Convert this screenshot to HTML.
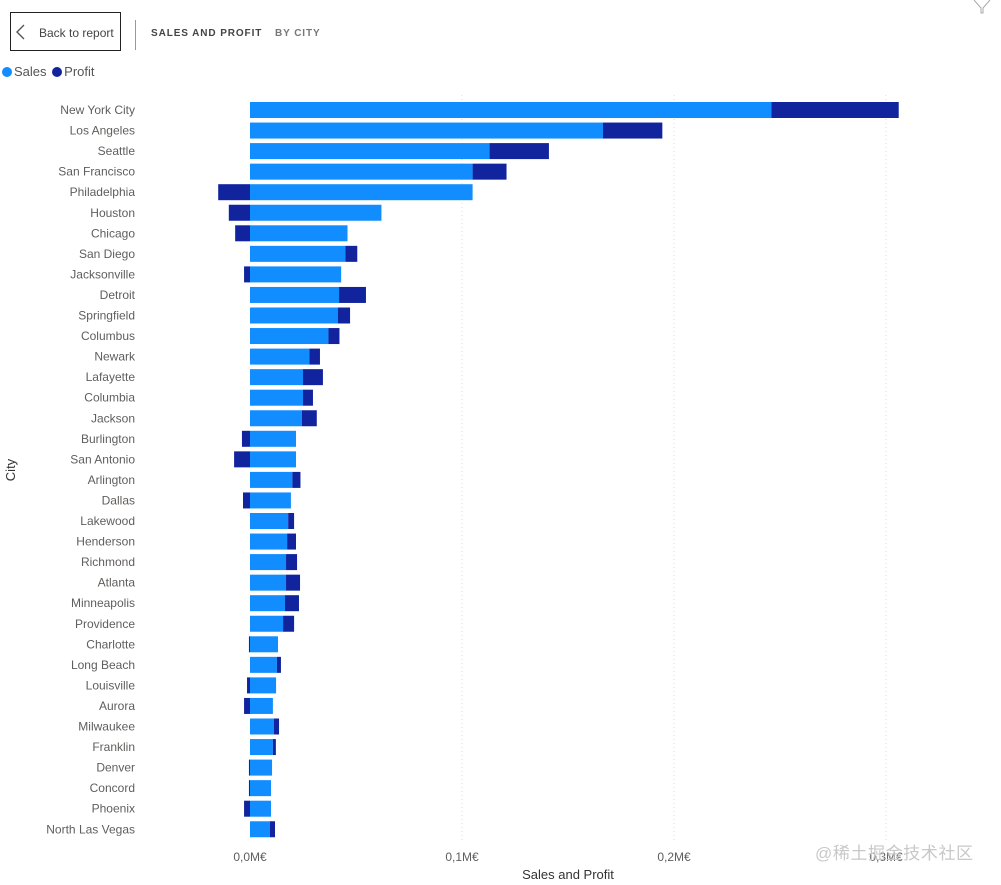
<!DOCTYPE html>
<html><head><meta charset="utf-8">
<style>
body{margin:0;background:#fff;font-family:"Liberation Sans",sans-serif;}
#root{position:relative;width:1001px;height:885px;overflow:hidden;}
</style></head>
<body>
<div id="root">
<div style="position:absolute;left:10px;top:12px;width:109px;height:37px;border:1px solid #222;box-sizing:content-box;">
<svg width="12" height="18" style="position:absolute;left:4px;top:11px"><polyline points="9,1 2,8 9,15" fill="none" stroke="#555" stroke-width="1.4"/></svg>
<span style="position:absolute;left:28px;top:13px;font-size:12px;color:#444;">Back to report</span></div>
<div style="position:absolute;left:135px;top:20px;width:1px;height:30px;background:#999"></div>
<div style="position:absolute;left:151px;top:28px;font-size:10px;font-weight:bold;letter-spacing:0.9px;color:#444">SALES AND PROFIT</div>
<div style="position:absolute;left:275px;top:28px;font-size:10px;font-weight:bold;letter-spacing:0.9px;color:#777">BY CITY</div>
<svg width="20" height="14" style="position:absolute;left:972px;top:0"><polyline points="2,0 9,8 9,13 11,13 11,8 18,0" fill="none" stroke="#aaa" stroke-width="1"/></svg>
<div style="position:absolute;left:2px;top:64px;font-size:13px;color:#555">
<span><span style="display:inline-block;width:10px;height:10px;border-radius:5px;background:#118DFF;vertical-align:-1px;margin-right:2px"></span>Sales</span>
<span style="margin-left:2px"><span style="display:inline-block;width:10px;height:10px;border-radius:5px;background:#12239E;vertical-align:-1px;margin-right:2px"></span>Profit</span></div>
<svg id="chart" width="1001" height="885" style="position:absolute;left:0;top:0"></svg>
<div style="position:absolute;left:815px;top:839px;font-size:17px;letter-spacing:0.6px;color:#c8c8c8;font-family:'Liberation Sans','Noto Sans CJK SC',sans-serif">@稀土掘金技术社区</div>
</div>
<script>
const cities=["New York City","Los Angeles","Seattle","San Francisco","Philadelphia","Houston","Chicago","San Diego","Jacksonville","Detroit","Springfield","Columbus","Newark","Lafayette","Columbia","Jackson","Burlington","San Antonio","Arlington","Dallas","Lakewood","Henderson","Richmond","Atlanta","Minneapolis","Providence","Charlotte","Long Beach","Louisville","Aurora","Milwaukee","Franklin","Denver","Concord","Phoenix","North Las Vegas"];
const sales=[246,166.5,113,105,105,62,46,45,43,42,41.5,37,28,25,25,24.5,21.7,21.7,20,19.3,18,17.5,17,17,16.5,15.6,13.2,12.7,12.3,10.8,11.3,10.8,10.4,9.9,9.9,9.4];
const profit=[60,28,28,16,-15,-10,-7,5.6,-2.8,12.7,5.7,5.2,5,9.4,4.7,7,-3.8,-7.5,3.8,-3.3,2.8,4.2,5.2,6.6,6.6,5.2,-0.5,1.9,-1.4,-2.8,2.4,1.4,-0.5,-0.5,-2.8,2.4];
const ticks=[0,100,200,300];
const tickLabels=["0,0M€","0,1M€","0,2M€","0,3M€"];
const svg=document.getElementById('chart');const NS='http://www.w3.org/2000/svg';
const x=v=>250+v*2.12;
const y=i=>102+i*20.55;
function mk(t,a){const e=document.createElementNS(NS,t);for(const k in a)e.setAttribute(k,a[k]);svg.appendChild(e);return e;}
ticks.forEach((t,i)=>{
 if(t>0){const g=mk('line',{x1:x(t),x2:x(t),y1:95,y2:840,stroke:'#ddd','stroke-dasharray':'1,3'});
 }
 const l=mk('text',{x:x(t),y:861,'text-anchor':'middle','font-size':'12',fill:'#605E5C'});l.textContent=tickLabels[i];
 
});
cities.forEach((c,i)=>{
 const t=mk('text',{x:135,y:y(i)+12,'text-anchor':'end','font-size':'12',fill:'#605E5C'});t.textContent=c;
 
 const s=mk('rect',{x:x(0),y:y(i),width:x(sales[i])-x(0),height:16,fill:'#118DFF'});
 
 const p=profit[i];const x0=p>=0?x(sales[i]):x(p);
 const r=mk('rect',{x:x0,y:y(i),width:Math.abs(p)*2.12,height:16,fill:'#12239E'});
 
});
const xt=mk('text',{x:568,y:879,'text-anchor':'middle','font-size':'13',fill:'#333'});xt.textContent='Sales and Profit';

const yt=mk('text',{x:15,y:470,'text-anchor':'middle','font-size':'13',fill:'#333',transform:'rotate(-90 15 470)'});yt.textContent='City';

</script>
</body></html>
